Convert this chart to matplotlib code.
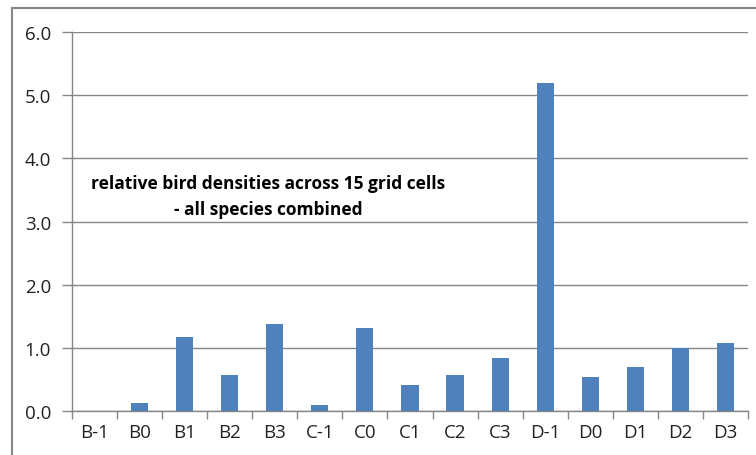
import matplotlib.pyplot as plt
from matplotlib.lines import Line2D
import numpy as np

cells = ['B-1', 'B0', 'B1', 'B2', 'B3', 'C-1', 'C0', 'C1', 'C2', 'C3',
         'D-1', 'D0', 'D1', 'D2', 'D3']
density = [0.0, 0.12, 1.17, 0.57, 1.37, 0.09, 1.31, 0.41, 0.57, 0.84,
           5.2, 0.54, 0.70, 1.0, 1.08]
yticks = [0.0, 1.0, 2.0, 3.0, 4.0, 5.0, 6.0]

plt.rcParams['font.family'] = ['Open Sans', 'DejaVu Sans']
grey = '#868686'

fig = plt.figure(figsize=(7.56, 4.56), dpi=100)
ax = fig.add_axes([0.0952, 0.0971, 0.8942, 0.8299])

x = np.arange(len(cells))
ax.bar(x, density, width=0.38, color='#4F81BD', zorder=3)

ax.set_xlim(-0.5, len(cells) - 0.5)
ax.set_ylim(0, 6)
ax.set_yticks(yticks)
ax.set_yticklabels(['%.1f' % v for v in yticks], fontsize=13.5, color='#222222')
ax.set_xticks(x)
ax.set_xticklabels(cells, fontsize=13.5, color='#222222')
ax.set_xticks(np.arange(-0.5, len(cells), 1.0), minor=True)
ax.tick_params(axis='x', which='major', length=0, pad=9)
ax.tick_params(axis='x', which='minor', length=6, color=grey, width=1)
ax.tick_params(axis='y', length=7, color=grey, width=1, pad=8)

ax.grid(axis='y', color=grey, linewidth=1, zorder=0)
for s in ['top', 'right']:
    ax.spines[s].set_visible(False)
for s in ['left', 'bottom']:
    ax.spines[s].set_color(grey)
    ax.spines[s].set_linewidth(1)

ax.text(0.290, 0.567, 'relative bird densities across 15 grid cells\n- all species combined',
        transform=ax.transAxes, ha='center', va='center', fontsize=12.5,
        fontweight='bold', linespacing=1.62, color='black')

# outer chart border (cropped on right and bottom)
fig.add_artist(Line2D([12 / 756, 1], [1 - 9 / 456, 1 - 9 / 456], color=grey, lw=1.5))
fig.add_artist(Line2D([12 / 756, 12 / 756], [0, 1 - 9 / 456], color=grey, lw=1.5))

fig.savefig('out.png', dpi=100)
